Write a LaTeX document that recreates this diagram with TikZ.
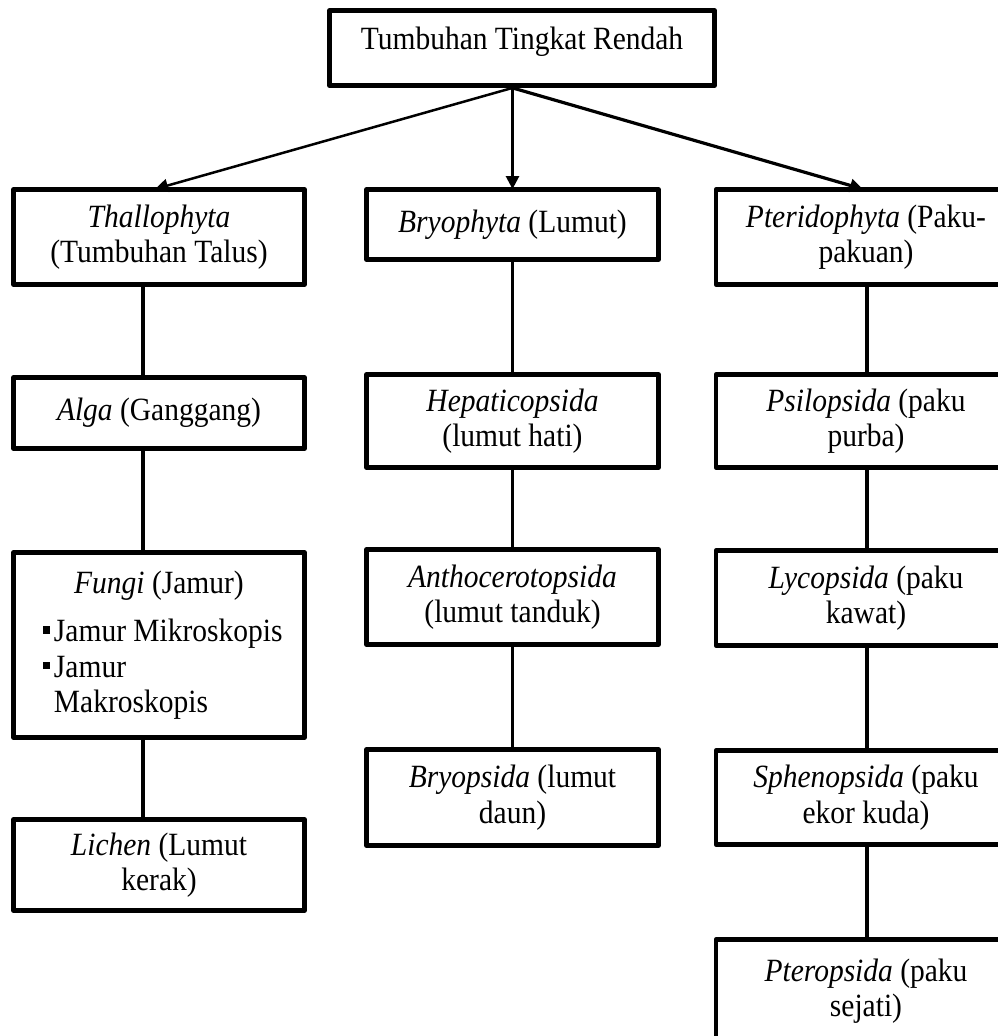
\documentclass[tikz,border=0pt]{standalone}
\usepackage{fontspec}
\setmainfont{Liberation Serif}
\usetikzlibrary{arrows.meta}
\newcommand\sqbul{\rule[7pt]{7pt}{7pt}}
\newcommand\vs[1]{\scalebox{1}[1.1]{#1}}
\begin{document}
\begin{tikzpicture}[x=1pt,y=-1pt,
  box/.style={draw, line width=4.8pt, line join=round, rectangle, inner sep=0pt,
    align=center, font=\fontsize{29.5}{35.5}\selectfont},
  lbox/.style={box, minimum width=291pt},
  mbox/.style={box, minimum width=292pt},
  rbox/.style={box, minimum width=300pt},
  conn/.style={line width=3.6pt},
  arr/.style={line width=2.5pt, -{Triangle[length=13pt,width=13pt]}}]
\useasboundingbox (0,0) rectangle (998,1036);
\clip (0,0) rectangle (998,1036);
\coordinate (lx) at (143,0);
\coordinate (rx) at (867,0);

% root
\node[box, minimum width=385pt, minimum height=75pt, text depth=20pt] (root) at (522,48) {\vs{Tumbuhan Tingkat Rendah}};

% left column
\node[lbox, minimum height=95pt] (thallo) at (159,237) {\vs{\textit{Thallophyta}}\\\vs{(Tumbuhan Talus)}};
\node[lbox, minimum height=71pt] (alga) at (159,413) {\vs{\textit{Alga} (Ganggang)}};
\node[lbox, minimum height=185pt, align=left] (fungi) at (159,645)
  {\makebox[250pt]{\vs{\textit{Fungi} (Jamur)}}\\[13pt]
   \hspace{9pt}\vs{\sqbul\hspace{4pt}Jamur Mikroskopis}\\
   \hspace{9pt}\vs{\sqbul\hspace{4pt}Jamur}\\
   \hspace{20pt}\vs{Makroskopis}};
\node[lbox, minimum height=91pt] (lichen) at (159,865) {\vs{\textit{Lichen} (Lumut}\\\vs{kerak)}};

% middle column
\node[mbox, minimum height=70pt] (bryo) at (512.5,224.5) {\vs{\textit{Bryophyta} (Lumut)}};
\node[mbox, minimum height=93pt] (hepat) at (512.5,421) {\vs{\textit{Hepaticopsida}}\\\vs{(lumut hati)}};
\node[mbox, minimum height=95pt] (antho) at (512.5,597) {\vs{\textit{Anthocerotopsida}}\\\vs{(lumut tanduk)}};
\node[mbox, minimum height=96pt] (bryops) at (512.5,797.5) {\vs{\textit{Bryopsida} (lumut}\\\vs{daun)}};

% right column
\node[rbox, minimum height=95pt] (pter) at (866,237) {\vs{\textit{Pteridophyta} (Paku-}\\\vs{pakuan)}};
\node[rbox, minimum height=93pt] (psil) at (866,421) {\vs{\textit{Psilopsida} (paku}\\\vs{purba)}};
\node[rbox, minimum height=95pt] (lyco) at (866,598) {\vs{\textit{Lycopsida} (paku}\\\vs{kawat)}};
\node[rbox, minimum height=94pt] (spheno) at (866,797.5) {\vs{\textit{Sphenopsida} (paku}\\\vs{ekor kuda)}};
\node[rbox, minimum height=103pt] (pterop) at (866,991) {\vs{\textit{Pteropsida} (paku}\\\vs{sejati)}};

% arrows from root
\draw[arr] (root.south -| bryo.north) -- ([xshift=-4pt,yshift=-2pt]thallo.north);
\draw[arr] (root.south -| bryo.north) -- ([yshift=-2pt]bryo.north);
\draw[arr, line width=3.2pt] (root.south -| bryo.north) -- ([xshift=-3pt,yshift=-2pt]pter.north);

% left connectors
\draw[conn] (thallo.south -| lx) -- (alga.north -| lx);
\draw[conn] (alga.south -| lx) -- (fungi.north -| lx);
\draw[conn] (fungi.south -| lx) -- (lichen.north -| lx);

% middle connectors
\draw[conn] (bryo.south) -- (hepat.north);
\draw[conn] (hepat.south) -- (antho.north);
\draw[conn] (antho.south) -- (bryops.north);

% right connectors
\draw[conn] (pter.south -| rx) -- (psil.north -| rx);
\draw[conn] (psil.south -| rx) -- (lyco.north -| rx);
\draw[conn] (lyco.south -| rx) -- (spheno.north -| rx);
\draw[conn] (spheno.south -| rx) -- (pterop.north -| rx);
\end{tikzpicture}
\end{document}
